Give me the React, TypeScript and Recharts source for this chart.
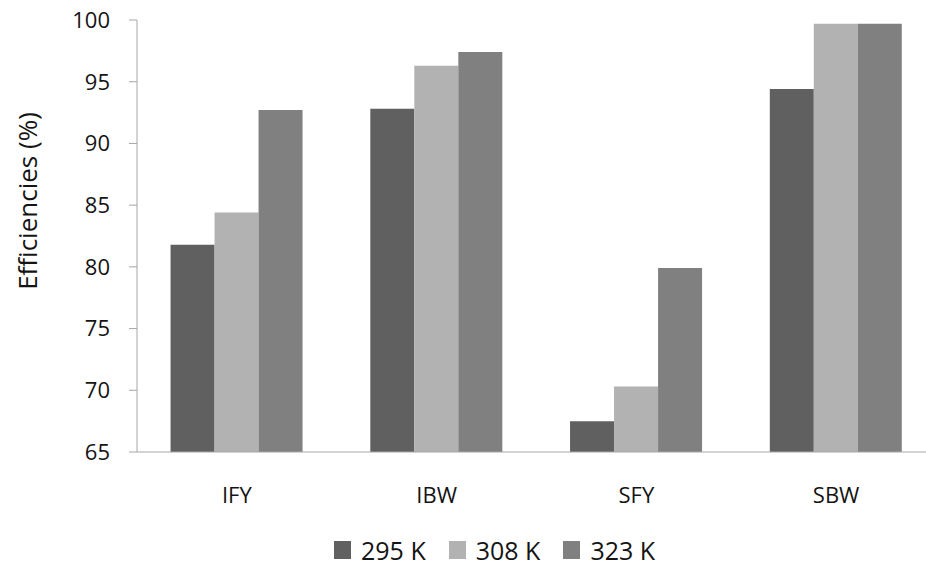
import React from 'react'
import { BarChart, Bar, XAxis, YAxis, Legend, Label } from 'recharts'

const CATEGORIES = ['IFY', 'IBW', 'SFY', 'SBW']
const EFF_295 = [81.8, 92.8, 67.5, 94.4]
const EFF_308 = [84.4, 96.3, 70.3, 99.7]
const EFF_323 = [92.7, 97.4, 79.9, 99.7]
const Y_TICKS = [65, 70, 75, 80, 85, 90, 95, 100]

const SERIES = [
  { key: 't295', name: '295 K', color: '#606060', values: EFF_295 },
  { key: 't308', name: '308 K', color: '#b2b2b2', values: EFF_308 },
  { key: 't323', name: '323 K', color: '#808080', values: EFF_323 },
]

const data = CATEGORIES.map((cat, i) => {
  const row: Record<string, string | number> = { cat }
  SERIES.forEach(s => { row[s.key] = s.values[i] })
  return row
})

const FONT = '"Open Sans", sans-serif'
const INK = '#141414'
const AXIS = '#a6a6a6'

function KeyLegend() {
  return (
    <div style={{ display: 'flex', alignItems: 'center', height: 40, paddingTop: 8, boxSizing: 'border-box', fontFamily: FONT }}>
      {SERIES.map((s, i) => (
        <div key={s.key} style={{ display: 'flex', alignItems: 'center', marginLeft: i ? 23 : 0 }}>
          <span style={{ display: 'inline-block', width: 17, height: 18, background: s.color, marginRight: 10 }} />
          <span style={{ fontSize: 25, color: INK, lineHeight: '18px', whiteSpace: 'nowrap' }}>{s.name}</span>
        </div>
      ))}
    </div>
  )
}

function YTitle({ viewBox }: { viewBox?: { x: number; y: number; width: number; height: number } }) {
  if (!viewBox) return null
  const cx = viewBox.x + 27
  const cy = viewBox.y + viewBox.height / 2 - 35
  return (
    <text x={cx} y={cy} transform={`rotate(-90 ${cx} ${cy})`} textAnchor="middle"
      dominantBaseline="central" fontFamily={FONT} fontSize={26} fill={INK}>
      Efficiencies (%)
    </text>
  )
}

export default function App() {
  return (
    <div style={{
      position: 'fixed', top: 0, left: 0, width: 926, height: 566,
      overflow: 'hidden', background: '#fff',
    }}>
      <BarChart width={940} height={566} data={data}
        margin={{ top: 20, right: 4, left: 0, bottom: 0 }}
        barCategoryGap="16.8%" barGap={0}>
        <XAxis dataKey="cat" stroke={AXIS} tickLine={false} tickSize={0} tickMargin={35} height={74}
          tick={{ fill: INK, fontSize: 22, fontFamily: FONT }} />
        <YAxis domain={[65, 100]} ticks={Y_TICKS} width={137} stroke={AXIS}
          tickSize={8} tickMargin={19} interval={0}
          tick={{ fill: INK, fontSize: 22, fontFamily: FONT }}>
          <Label content={<YTitle />} />
        </YAxis>
        <Legend verticalAlign="bottom" align="left" content={<KeyLegend />}
          wrapperStyle={{ left: 334, width: 'auto', height: 40 }} />
        {SERIES.map(s => (
          <Bar key={s.key} dataKey={s.key} name={s.name} fill={s.color} isAnimationActive={false} />
        ))}
      </BarChart>
    </div>
  )
}
